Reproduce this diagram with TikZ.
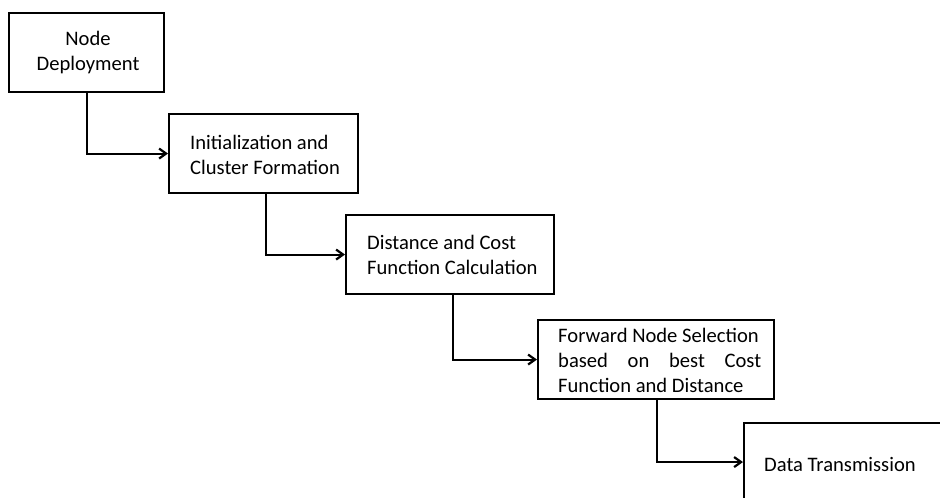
\documentclass[tikz,border=0pt]{standalone}
\usepackage{fontspec}
\setmainfont{Carlito}
\usetikzlibrary{arrows.meta}
\begin{document}
\begin{tikzpicture}[x=1pt,y=-1pt,
 box/.style={draw, line width=2.1pt, inner sep=0pt, anchor=north west},
 lbl/.style={font=\fontsize{20.6pt}{24.8pt}\selectfont, inner sep=0pt, align=left, anchor=west},
 flow/.style={line width=2pt, -{Straight Barb[length=7pt,width=10pt,line width=2.2pt]}}]
\useasboundingbox (0,0) rectangle (940,498);
\clip (0,0) rectangle (940,498);
\node[box, minimum width=155pt, minimum height=79pt] (b1) at (8,12) {};
\node[box, minimum width=189pt, minimum height=79pt] (b2) at (168,113) {};
\node[box, minimum width=208pt, minimum height=79pt] (b3) at (345,214) {};
\node[box, minimum width=236pt, minimum height=79pt] (b4) at (537,319) {};
\node[box, minimum width=240pt, minimum height=78pt] (b5) at (743,422) {};
\node[lbl, align=center, anchor=center] (t1) at ([xshift=1.5pt]b1.center) {Node\\Deployment};
\node[lbl] (t2) at ([xshift=22pt,yshift=-1pt]b2.west) {Initialization and\\Cluster Formation};
\node[lbl] (t3) at ([xshift=22pt,yshift=-0.5pt]b3.west) {Distance and Cost\\Function Calculation};
\node[lbl] (t4) at ([xshift=21pt,yshift=-1pt]b4.west) {Forward Node Selection\\\makebox[203pt][s]{based on best Cost}\\Function and Distance};
\node[lbl] (t5) at ([xshift=21pt,yshift=-2pt]b5.west) {Data Transmission};
\draw[flow] ([xshift=0.5pt]b1.south) |- (b2.west);
\draw[flow] ([xshift=2.5pt]b2.south) |- (b3.west);
\draw[flow] ([xshift=3pt]b3.south) |- (b4.west);
\draw[flow] ([xshift=1pt]b4.south) |- (b5.west);
\end{tikzpicture}
\end{document}
